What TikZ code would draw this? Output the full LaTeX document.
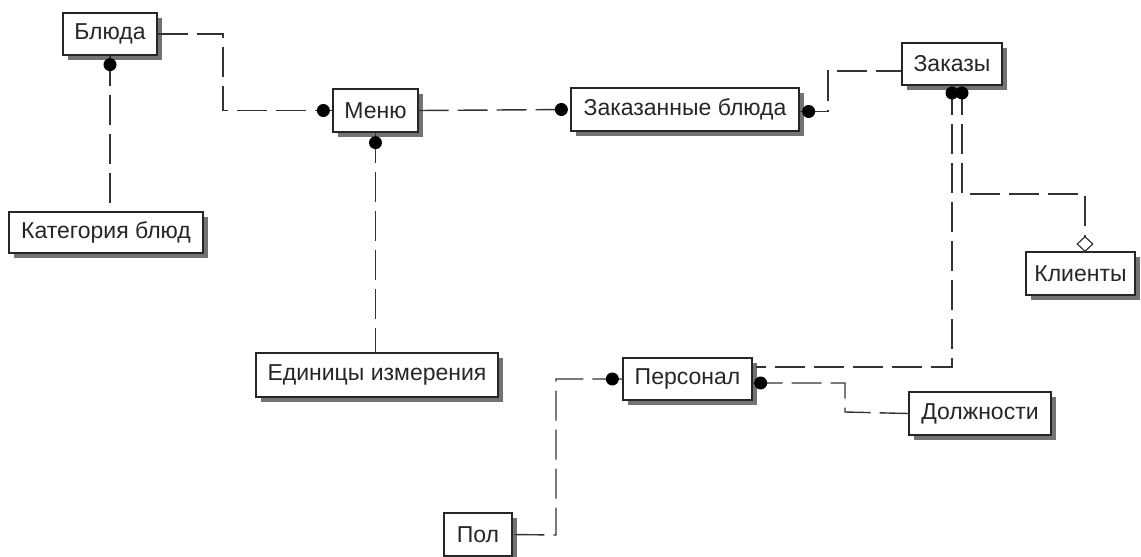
\documentclass[tikz,border=0pt]{standalone}
\usepackage{fontspec}
\setmainfont{Liberation Sans}
\usetikzlibrary{calc,shapes.geometric}
\begin{document}
\begin{tikzpicture}[x=1pt,y=-1pt,
  entity/.style={draw=black!85,line width=1.3pt,fill=white,inner sep=0pt,
    font=\fontsize{23}{27}\selectfont,text=black!85},
  rel/.style={draw=black!80,line width=1.4pt,dash pattern=on 30pt off 9pt},
  dot/.style={fill=black},
  shade/.style={fill=black!55}]
\useasboundingbox (0,0) rectangle (1141,557);

% entity boxes: name, centre, width, height, label
\foreach \n/\x/\y/\w/\h/\t in {
  bl/110/34/94/42/Блюда,
  menu/375.5/110.5/85/43/Меню,
  zb/685/109.5/228/43/Заказанные блюда,
  zak/952/64/100/42/Заказы,
  kat/106/232.5/194/41/Категория блюд,
  ed/377/375/242/44/Единицы измерения,
  pers/687.5/379/129/42/Персонал,
  dol/980/413.5/142/43/Должности,
  kl/1080.5/273.5/109/43/Клиенты,
  pol/478/534.5/68/43/Пол}{
  \fill[shade] (\x-\w/2+5,\y-\h/2+5) rectangle (\x+\w/2+5,\y+\h/2+5);
  \node[entity,minimum width=\w pt,minimum height=\h pt] (\n) at (\x,\y) {\t};
}

% relationships
\draw[rel] (bl.east) -- (223,34) -- (223,110.5) -- (menu.west);
\fill[dot] ($(menu.west)+(-9,0)$) circle (6.5);

\draw[rel] (bl.south) -- (bl.south |- kat.north);
\fill[dot] ($(bl.south)+(0,9)$) circle (6.5);

\draw[rel] (menu.south) -- (menu.south |- ed.north);
\fill[dot] ($(menu.south)+(0,10)$) circle (6.5);

\draw[rel] (menu.east) -- (zb.west);
\fill[dot] ($(zb.west)+(-9,0)$) circle (6.5);

\coordinate (zbout) at ($(zb.east)+(0,2)$);
\coordinate (zakin) at ($(zak.west)+(0,7)$);
\draw[rel] (zbout) -- (828,111.5) -- (828,71) -- (zakin);
\fill[dot] ($(zbout)+(9,0)$) circle (6.5);

\coordinate (zakA) at (952,85);
\coordinate (zakB) at (962,85);
\coordinate (persup) at ($(pers.east)+(3,-12)$);
\draw[rel] (zakA) -- (952,367) -- (persup);
\draw[rel] (zakB) -- (962,194) -- (1085,194) -- (1085,252);
\fill[dot] ($(zakA)+(0,8)$) circle (6.5);
\fill[dot] ($(zakB)+(0,8)$) circle (6.5);
\node[diamond,draw=black!80,line width=1.2pt,fill=white,inner sep=0pt,
  minimum width=16pt,minimum height=15pt] (dia) at (1085,244) {};

\coordinate (persR) at ($(pers.east)+(0,4)$);
\draw[rel] (persR) -- (845,383) -- (845,412) -- (dol.west);
\fill[dot] ($(persR)+(8,0)$) circle (6.5);

\draw[rel] (pers.west) -- (556,379) -- (556,535) -- (pol.east);
\fill[dot] ($(pers.west)+(-10,0)$) circle (6.5);
\end{tikzpicture}
\end{document}
